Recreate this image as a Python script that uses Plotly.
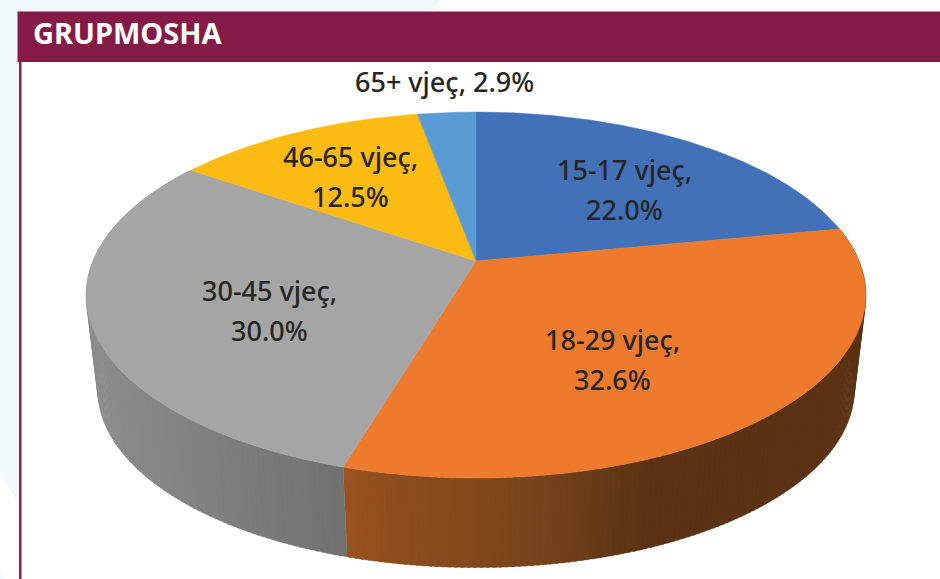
import numpy as np
import plotly.graph_objects as go

# --- data ---
categories = ["15-17 vjeç", "18-29 vjeç", "30-45 vjeç", "46-65 vjeç", "65+ vjeç"]
values = [22.0, 32.6, 30.0, 12.5, 2.9]
title_text = "GRUPMOSHA"

# --- style ---
top_colors = ["#4371B8", "#ED7A2D", "#A4A5A4", "#FDBB13", "#5B9BD5"]
label_pos = [(624, 189), (612, 359), (269, 310), (350, 176), (444, 81)]
MAROON = "#851A47"
PALE = "#EFF8FB"
TEXT = "#262626"

# wall shading, by screen x of the band (interpolated between read-off shades)
wall_shades = {
    1: ([345, 400, 480, 560, 610, 650, 870],
        [(154, 82, 32), (140, 76, 29), (130, 72, 28), (115, 64, 26), (100, 56, 22), (92, 50, 20), (91, 50, 19)]),
    2: ([85, 150, 230, 300, 347],
        [(141, 140, 138), (135, 134, 132), (125, 125, 125), (118, 118, 118), (111, 112, 111)]),
}

# --- perspective disc model ---
CX, CY, K = 476.0, 261.0, -0.186
AX, AY = 383.0, 176.7
WALL_SCALE, WALL_CY = 0.97, 357.0


def project(theta_deg, cy=CY, scale=1.0):
    t = np.radians(theta_deg)
    u, v = np.sin(t), -np.cos(t)
    d = 1 + K * v          # nearer edge (v > 0) is magnified
    return CX + scale * AX * u / d, cy + scale * AY * v / d


edges = np.concatenate([[0], np.cumsum(values)]) / sum(values) * 360.0
fig = go.Figure()

# side walls (only the front slices show a wall)
for i, shades in wall_shades.items():
    xs_ref, rgb = shades
    rgb = np.array(rgb, float)
    a0, a1 = edges[i], edges[i + 1]
    steps = np.arange(a0, a1, 0.8).tolist() + [a1]
    for s, e in zip(steps[:-1], steps[1:]):
        arc = np.linspace(s, min(e + 0.3, a1), 3)
        xt, yt = project(arc)
        xb, yb = project(arc[::-1], WALL_CY, WALL_SCALE)
        xm = float(np.mean(xt))
        col = [int(round(np.interp(xm, xs_ref, rgb[:, c]))) for c in range(3)]
        c = f"rgb({col[0]},{col[1]},{col[2]})"
        fig.add_trace(go.Scatter(
            x=np.concatenate([xt, xb, xt[:1]]), y=np.concatenate([yt, yb, yt[:1]]),
            mode="lines", fill="toself", fillcolor=c, line=dict(color=c, width=0.3),
            hoverinfo="skip", showlegend=False))

# top surface
for i, cat in enumerate(categories):
    arc = np.linspace(edges[i], edges[i + 1], max(int(edges[i + 1] - edges[i]) * 2, 8))
    xa, ya = project(arc)
    x = np.concatenate([[CX], xa, [CX]])
    y = np.concatenate([[CY], ya, [CY]])
    fig.add_trace(go.Scatter(
        x=x, y=y, mode="lines", fill="toself", fillcolor=top_colors[i],
        line=dict(color=top_colors[i], width=0.5), name=cat,
        hoverinfo="skip", showlegend=False))

# labels
annotations = []
for (cat, val, (lx, ly)) in zip(categories, values, label_pos):
    if val < 5:
        lines = [(f"{cat}, {val:.1f}%", ly)]
    else:
        lines = [(f"{cat},", ly - 20), (f"{val:.1f}%", ly + 20)]
    for txt, yy in lines:
        annotations.append(dict(x=lx, y=yy, text=txt, showarrow=False, xanchor="center", yanchor="middle",
                                font=dict(family="Noto Sans", size=27, color=TEXT, weight=500)))
annotations.append(dict(x=30.5, y=32.5, text=f"<b>{title_text}</b>", showarrow=False, xanchor="left", yanchor="middle",
                        font=dict(family="Noto Sans", size=29, color="#FFFFFF")))

shapes = [
    # pale page background
    dict(type="path", layer="below", line_width=0, fillcolor=PALE,
         path="M0,0 L440,0 L431,14 L18,14 L18,503 L0,473 Z"),
    dict(type="path", layer="below", line_width=0, fillcolor=PALE,
         path="M0,568 L4,579 L0,579 Z"),
    # header bar and left rule
    dict(type="rect", layer="below", x0=17.5, x1=940, y0=11.5, y1=62, line_width=0, fillcolor=MAROON),
    dict(type="rect", layer="below", x0=19, x1=21.5, y0=62, y1=579, line_width=0, fillcolor="#8A1F50"),
]

fig.update_layout(
    width=940, height=579, autosize=False,
    margin=dict(l=0, r=0, t=0, b=0),
    paper_bgcolor="#FFFFFF", plot_bgcolor="rgba(0,0,0,0)",
    xaxis=dict(range=[0, 940], visible=False, fixedrange=True),
    yaxis=dict(range=[579, 0], visible=False, fixedrange=True),
    shapes=shapes, annotations=annotations, showlegend=False,
)
fig.write_html("out.html", config=dict(displayModeBar=False),
               default_width="940px", default_height="579px",
               post_script="document.body.style.margin='0';")
